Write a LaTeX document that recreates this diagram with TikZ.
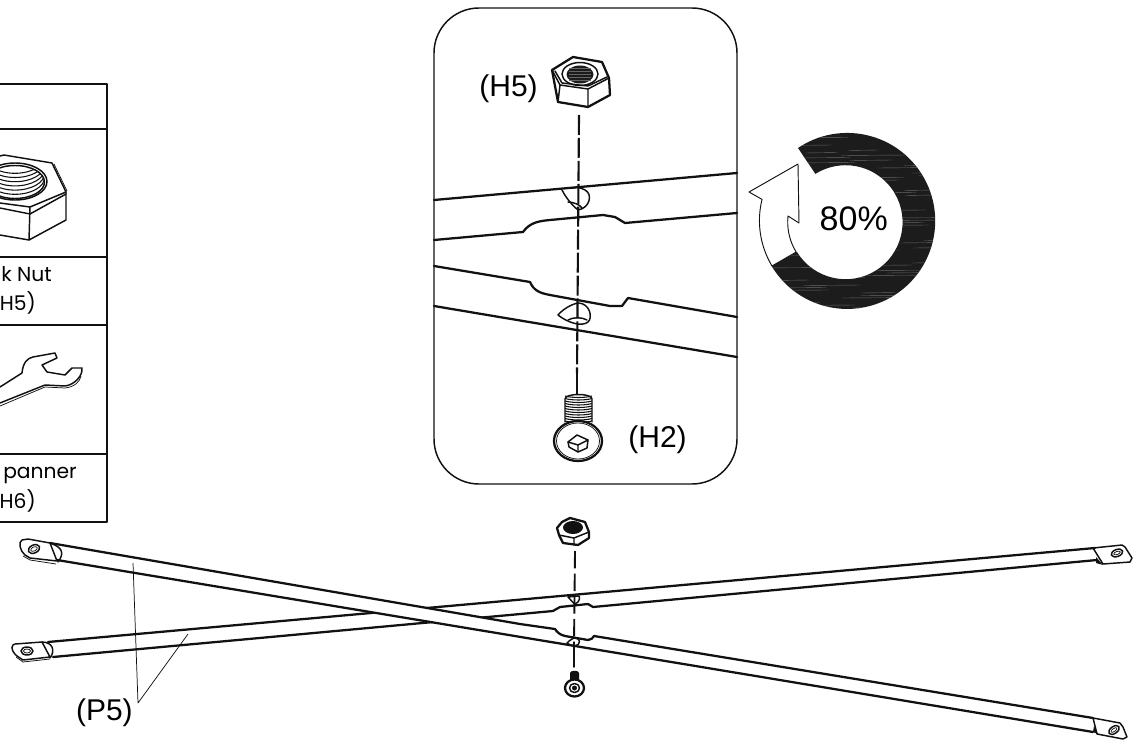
\documentclass[tikz,border=0pt]{standalone}
\usepackage{xcolor}
\usepackage{fontspec}
\setmainfont{Liberation Sans}
\newfontfamily\tablefont{Poppins}
\definecolor{sketch-ink}{HTML}{111111}
\definecolor{sketch-band}{HTML}{1C1C1C}
\definecolor{sketch-streak}{HTML}{666666}
\tikzset{
    heavyline/.style={draw=sketch-ink, line width=1.7pt, line join=round, line cap=round},
    partline/.style={draw=sketch-ink, line width=1.1pt, line join=round, line cap=round},
    fineline/.style={draw=sketch-ink, line width=0.55pt, line join=round},
    axisline/.style={draw=sketch-ink, line width=1.6pt, dash pattern=on 15pt off 2.2pt},
    smallaxis/.style={draw=sketch-ink, line width=1.4pt, dash pattern=on 13pt off 4pt},
    tablabel/.style={anchor=base east, inner sep=0pt, font=\tablefont\fontsize{15.2}{17}\selectfont},
    partlabel/.style={anchor=base east, inner sep=0pt, font=\fontsize{22.5}{24}\selectfont},
}
\begin{document}
\begin{tikzpicture}[x=0.75pt, y=-0.75pt]

    \useasboundingbox (0, 0) rectangle (1139, 742);
    \clip (0, 0) rectangle (1139, 742);
    \fill[white] (0, 0) rectangle (1139, 742);

    % Parts table
    \draw[partline] (0, 84) -- (107, 84) -- (107, 522) -- (0, 522);
    \draw[partline] (0, 129) -- (107, 129);
    \draw[partline] (0, 257) -- (107, 257);
    \draw[partline] (0, 325) -- (107, 325);
    \draw[partline] (0, 454) -- (107, 454);

    % Table nut
    \draw[partline] (0, 156) -- (4, 155) -- (52, 163) -- (66, 192) -- (30, 207) -- (0, 203);
    \draw[fineline] (54, 164) -- (67, 191);
    \draw[partline] (0, 208) -- (30, 214) -- (66, 194);
    \draw[partline] (66, 192) -- (66, 220) -- (29, 240) -- (0, 235);
    \draw[partline] (30, 207) -- (29, 240);
    \draw[partline] (15, 181.5) ellipse (32 and 18.5);
    \draw[partline] (15, 182) ellipse (29.5 and 16.5);
    \begin{scope}
        \clip (15, 182) ellipse (29.5 and 16.5);
        \foreach \ringstep in {1, ..., 6} {
            \draw[partline, line width=0.8pt] (15, {182 - 4.2*\ringstep}) ellipse (29.5 and 16.5);
        }
    \end{scope}

    % Table spanner
    \draw[partline] (0, 387) -- (22, 373) .. controls (23, 362) and (28, 358) .. (33, 357)
        -- (55, 353) -- (57, 358) -- (42, 365) -- (47, 372) -- (65, 375) -- (72, 368) -- (82, 368)
        .. controls (83, 376) and (74, 385) .. (65, 386) -- (45, 385) -- (0, 403);
    \draw[fineline] (0, 406) -- (45, 387) -- (65, 388) .. controls (74, 387) and (80, 382) .. (81, 376);

    \node[tablabel] (nutname) at (52, 281) {k Nut};
    \node[tablabel] (nutcode) at (36, 310) {H5)};
    \node[tablabel] (spannername) at (77, 478) {panner};
    \node[tablabel] (spannercode) at (36, 508) {H6)};

    % Detail frame
    \draw[partline] (479, 8) -- (692, 8) arc[start angle=-90, end angle=0, radius=45]
        -- (737, 439) arc[start angle=0, end angle=90, radius=45]
        -- (479, 484) arc[start angle=90, end angle=180, radius=45]
        -- (434, 53) arc[start angle=180, end angle=270, radius=45] -- cycle;

    % Detail rods
    \draw[heavyline] (434, 200) -- (737, 173);
    \draw[heavyline] (434, 240) -- (523, 232) .. controls (530, 222) and (540, 221) .. (550, 220)
        -- (603, 215) -- (615, 217) -- (625, 223) -- (737, 213);
    \draw[heavyline] (434, 266) -- (530, 282) .. controls (534, 291) and (540, 293) .. (550, 295)
        -- (610, 306) -- (622, 306) -- (628, 298) -- (737, 317);
    \draw[heavyline] (434, 306) -- (737, 357);

    % Detail holes
    \draw[partline] (562, 190) .. controls (566, 198) and (572, 205) .. (578, 210)
        .. controls (590, 208) and (593, 194) .. (585, 190) .. controls (580, 187) and (575, 187) .. (573, 188);
    \draw[partline] (568, 202) .. controls (574, 202) and (580, 205) .. (582, 208);
    \draw[partline] (558, 315) .. controls (563, 309) and (572, 304) .. (578, 303)
        .. controls (590, 303) and (593, 318) .. (588, 322) .. controls (582, 327) and (568, 323) .. (558, 315);
    \draw[partline] (568, 320) .. controls (573, 317) and (582, 317) .. (587, 320);

    % Detail nut
    \draw[heavyline, fill=white] (552, 70) -- (573, 57) -- (602, 62) -- (609, 78) -- (610, 95) -- (588, 107) -- (558, 102) -- cycle;
    \draw[partline] (552, 70) -- (560, 85) -- (588, 89) -- (609, 78);
    \draw[partline] (555, 71) -- (562, 83) -- (588, 86) -- (607, 77);
    \draw[partline] (560, 85) -- (558, 102) (588, 89) -- (588, 107);
    \draw[partline] (580, 74) ellipse (18 and 11.5);
    \fill[sketch-band] (580, 74.5) ellipse (13.5 and 9);
    \foreach \ringy in {68, 71, 74, 77, 80} {
        \draw[sketch-streak, line width=0.3pt] (569, \ringy) -- (591, \ringy);
    }

    % Detail screw
    \draw[partline, fill=white] (565, 422) -- (565, 399) .. controls (565, 393) and (592, 393) .. (592, 399) -- (592, 422);
    \foreach \ringy in {396, 398.5, ..., 421} {
        \draw[fineline, line width=0.8pt] (565, \ringy) .. controls (572, {\ringy+2}) and (585, {\ringy+2}) .. (592, \ringy);
    }
    \draw[heavyline, fill=white] (578, 441) ellipse (24 and 20);
    \draw[fineline] (578, 441) ellipse (21.5 and 18);
    \draw[partline] (568, 442) -- (577, 435) -- (588, 440) -- (587, 448) -- (578, 452) -- (569, 447) -- cycle;
    \draw[partline] (568, 442) -- (578, 445) -- (588, 440) (578, 445) -- (578, 452);

    % Detail axis
    \coordinate (detailtop) at (579, 115);
    \coordinate (detailmid) at (577, 373);
    \coordinate (detailend) at (577, 394);
    \draw[axisline] (detailtop) -- (detailmid);
    \draw[heavyline] (detailmid) -- (detailend);

    \node[partlabel] (detailnut) at (538, 97) {(H5)};
    \node[partlabel] (detailscrew) at (687, 447) {(H2)};

    % Turn indicator
    \begin{scope}
        \clip (798, 148) arc[start angle=-124, end angle=149, radius=88]
            -- (797, 252) arc[start angle=148.5, end angle=-122, radius=57] -- cycle;
        \fill[sketch-band] (750, 125) rectangle (945, 315);
        \pgfmathsetseed{4}
        \foreach \streak in {0, ..., 70} {
            \pgfmathsetmacro{\streakx}{750 + 190*rnd}
            \draw[sketch-streak, line width=0.3pt] (\streakx, {133 + \streak*2.5}) -- ({\streakx + 25 + 60*rnd}, {132.5 + \streak*2.5});
        }
    \end{scope}
    \draw[fineline, line width=0.7pt, fill=white] (772, 266) arc[start angle=149, end angle=194, radius=88]
        -- (749, 192) -- (798, 164) -- (799, 223) -- (788, 216)
        arc[start angle=186, end angle=148.5, radius=57.5] -- cycle;
    \node[partlabel, font=\fontsize{25.5}{27}\selectfont] (turnvalue) at (888, 230) {80\%};

    % Long rod, lower left to upper right
    \draw[heavyline] (48, 642) -- (1095, 548);
    \draw[heavyline] (53, 657) -- (553, 611) -- (560, 607) -- (588, 604) -- (593, 607) -- (1097, 560);
    \draw[partline] (13, 645) .. controls (10, 648) and (14, 654) .. (17, 656) -- (23, 660) -- (50, 657)
        -- (42, 642) -- (15, 644) -- cycle;
    \draw[fineline] (16, 657) -- (23, 662) -- (50, 659);
    \draw[partline] (42, 642) .. controls (52, 642) and (56, 650) .. (50, 658);
    \draw[partline] (27, 651) ellipse (6 and 4);
    \draw[fineline] (27, 651) ellipse (3.5 and 2);
    \draw[partline] (1093, 548) -- (1122, 545) -- (1125, 547) -- (1132, 558) -- (1130, 562) -- (1103, 564) -- cycle;
    \fill[sketch-ink] (1096, 557) -- (1103, 565) -- (1096, 563) -- cycle;
    \draw[partline, rotate around={20:(1117, 553)}] (1117, 553) ellipse (6 and 3.5);
    \draw[fineline, rotate around={20:(1117, 553)}] (1117, 553) ellipse (3.5 and 1.5);

    % Long rod, upper left to lower right
    \fill[white] (50, 543) -- (520, 624) -- (555, 629) -- (558, 633) -- (565, 636) -- (588, 640) -- (594, 636)
        -- (1093, 718) -- (1093, 732) -- (57, 560) -- cycle;
    \draw[heavyline] (50, 543) -- (520, 624) -- (555, 629) .. controls (557, 632) and (560, 635) .. (565, 636)
        -- (588, 640) .. controls (591, 640) and (593, 638) .. (594, 636) -- (1093, 718);
    \draw[heavyline] (57, 560) -- (1093, 732);
    \draw[partline] (22, 540) -- (28, 539) -- (50, 543) -- (57, 561) -- (30, 558) -- (25, 555)
        .. controls (20, 551) and (18, 542) .. (22, 540) -- cycle;
    \draw[fineline] (23, 556) -- (30, 560) -- (56, 564);
    \draw[partline] (50, 543) .. controls (62, 547) and (65, 553) .. (58, 562);
    \draw[partline, rotate around={25:(34, 549)}] (34, 549) ellipse (6 and 4);
    \draw[fineline, rotate around={25:(34, 549)}] (34, 549) ellipse (3.5 and 2);
    \draw[partline] (1093, 718) -- (1120, 723) -- (1123, 727) -- (1127, 737) -- (1123, 739) -- (1097, 734) -- cycle;
    \fill[sketch-ink] (1094, 726) -- (1098, 734) -- (1093, 732) -- cycle;
    \draw[partline, rotate around={35:(1114, 730)}] (1114, 730) ellipse (6 and 3.5);
    \draw[fineline, rotate around={35:(1114, 730)}] (1114, 730) ellipse (3.5 and 1.5);

    % Small nut
    \draw[heavyline, fill=white] (557, 528) -- (562, 522) -- (570, 518) -- (585, 522) -- (589, 532) -- (589, 538)
        -- (578, 545) -- (563, 543) -- (559, 535) -- cycle;
    \draw[partline] (559, 535) -- (574, 538) -- (589, 532) (574, 538) -- (574, 545);
    \fill[sketch-ink] (573, 527.5) ellipse (10 and 6.5);

    % Small screw
    \fill[sketch-ink] (570, 673) .. controls (570, 670) and (579, 670) .. (579, 673) -- (579, 683) -- (570, 683) -- cycle;
    \draw[heavyline, fill=white] (574.5, 688) ellipse (9.5 and 8.5);
    \draw[partline] (574.5, 688) ellipse (5 and 4.5);
    \fill[sketch-ink] (574.5, 688) circle (2.5);

    % Small holes
    \draw[partline] (568, 597) .. controls (571, 600) and (573, 603) .. (575, 604)
        .. controls (580, 602) and (580, 597) .. (579, 596) -- (568, 597);
    \draw[partline] (567, 643) .. controls (570, 640) and (573, 638) .. (575, 638)
        .. controls (581, 638) and (581, 645) .. (575, 646) .. controls (572, 646) and (569, 645) .. (567, 643);

    % Small axis
    \coordinate (smalltop) at (575, 551);
    \coordinate (smallmid) at (574, 643);
    \coordinate (smallend) at (574, 667);
    \draw[smallaxis] (smalltop) -- (smallmid);
    \draw[heavyline, line width=1.4pt] (smallmid) -- (smallend);

    % Rod callout
    \coordinate (calloutapex) at (138, 703);
    \coordinate (calloutupper) at (133, 563);
    \coordinate (calloutlower) at (188, 634);
    \draw[fineline] (calloutupper) -- (calloutapex) -- (calloutlower);
    \node[partlabel] (rodname) at (133, 720) {(P5)};

\end{tikzpicture}
\end{document}
